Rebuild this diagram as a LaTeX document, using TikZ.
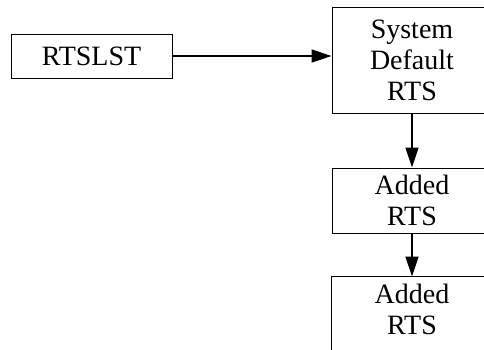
\documentclass[tikz,border=0pt]{standalone}
\usepackage{fontspec}
\setmainfont{Liberation Serif}
\usetikzlibrary{arrows.meta}
\begin{document}
\begin{tikzpicture}[x=1pt,y=-1pt,
  box/.style={draw, line width=1pt, align=center, inner sep=0pt,
    font=\fontsize{28}{31}\selectfont},
  flow/.style={line width=1.4pt, -{Triangle[length=20pt,width=13pt]}}]
  % page frame; boxes running past it are cut off
  \useasboundingbox (0,0) rectangle (484,349);
  \clip (0,0) rectangle (484,349);

  \node[box, minimum width=161pt, minimum height=44pt] (list) at (91.5,56) {RTSLST};
  \node[box, minimum width=160pt, minimum height=106pt] (sys) at (412,60) {System\\Default\\RTS};
  \node[box, minimum width=160pt, minimum height=65pt] (add1) at (412,200.5) {Added\\RTS};
  \node[box, draw=none, minimum width=160pt, minimum height=65pt] (add2) at (412,309.5) {Added\\RTS};
  % last box continues below the page edge
  \draw[line width=1pt] ([yshift=-60pt]add2.south west) -- (add2.north west) -- (add2.north east);

  \draw[flow] (list.east) -- (list.east -| sys.west);
  \draw[flow] (sys.south) -- (add1.north);
  \draw[flow] (add1.south) -- (add2.north);
\end{tikzpicture}
\end{document}
